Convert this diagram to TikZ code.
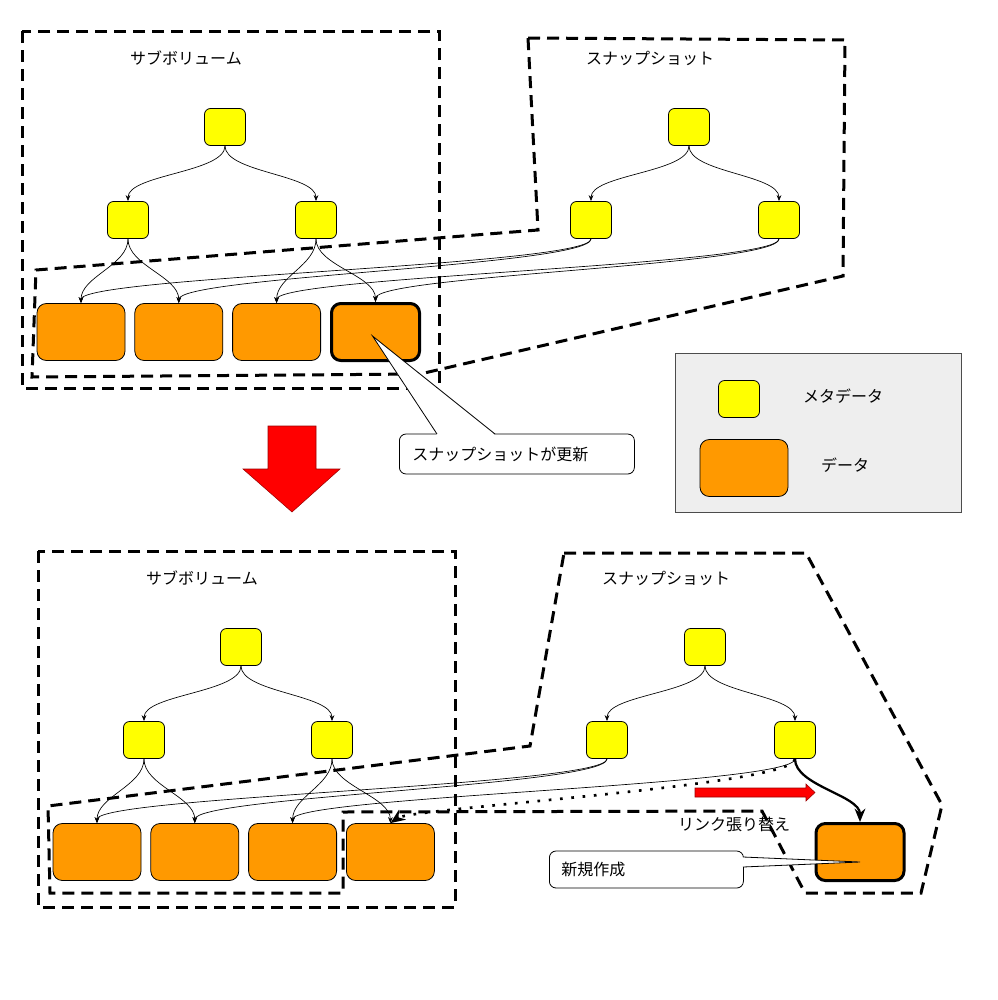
\documentclass[tikz,border=0pt]{standalone}
\usepackage{fontspec}
\setmainfont{Noto Sans CJK JP}
\usetikzlibrary{positioning}
\usetikzlibrary{arrows.meta}

\definecolor{metaY}{HTML}{FFFF00}
\definecolor{dataO}{HTML}{FF9900}
\definecolor{legG}{HTML}{EEEEEE}

\tikzset{
    meta/.style={draw, fill=metaY, rounded corners=4.5pt, minimum width=30.75pt, minimum height=27.75pt, inner sep=0pt, line width=0.6pt},
    dat/.style={draw, fill=dataO, rounded corners=7pt, minimum width=66pt, minimum height=42.75pt, inner sep=0pt, line width=0.6pt},
    grp/.style={line width=2.25pt, dash pattern=on 9pt off 5.25pt},
    link/.style={->, line width=0.5pt, out=-90, in=90, distance=20pt},
    callout/.style={draw, fill=white, rounded corners=5pt, line width=0.6pt, align=left, inner xsep=9.75pt, anchor=west},
}

\begin{document}
\begin{tikzpicture}[x=0.75pt, y=-0.75pt, >={Stealth[length=4.5pt,width=3.5pt]}, font=\fontsize{12pt}{14pt}\selectfont]
    \useasboundingbox (0,0) rectangle (997,1000);

    \draw[grp] (22,31) rectangle (439,388);
    \draw[grp] (528,38) -- (845,40) -- (843,276) -- (420,374) -- (32,377) -- (36,270) -- (538,230) -- cycle;
    \draw[grp] (38,551) rectangle (455,907);
    \draw[grp] (564,553) -- (806,553) -- (942,805) -- (921,893) -- (805,893) -- (762,811) -- (343,812) -- (343,893) -- (50,893) -- (48,806) -- (530,746) -- cycle;

    \node (T1) at (186,58) {サブボリューム};
    \node (T2) at (650,58) {スナップショット};
    \node[meta] (S0) at (225,127) {};
    \node[meta] (S1) at (128,220) {};
    \node[meta] (S2) at (316,220) {};
    \node[meta] (P0) at (689,127) {};
    \node[meta] (P1) at (591,220) {};
    \node[meta] (P2) at (779,220) {};
    \node[dat] (D1) at (81,332) {};
    \node[dat, right=6.75pt of D1] (D2) {};
    \node[dat, right=6.75pt of D2] (D3) {};
    \node[dat, right=6.75pt of D3, line width=2.25pt] (D4) {};

    \draw[link] (S0.south) to (S1.north);
    \draw[link] (S0.south) to (S2.north);
    \draw[link] (P0.south) to (P1.north);
    \draw[link] (P0.south) to (P2.north);
    \draw[link] (S1.south) to (D1.north);
    \draw[link] (S1.south) to (D2.north);
    \draw[link] (S2.south) to (D3.north);
    \draw[link] (S2.south) to (D4.north);
    \draw[link] (P1.south) to (D1.north);
    \draw[link] (P1.south) to (D2.north);
    \draw[link] (P2.south) to (D3.north);
    \draw[link] (P2.south) to (D4.north);

    \draw[fill=red, draw=red!60!black, line width=0.4pt] (268,426) -- (316,426) -- (316,469) -- (340,469) -- (292,512) -- (243,469) -- (268,469) -- cycle;

    \draw[fill=legG, draw=black!70, line width=0.6pt] (675,353) rectangle (961,512);
    \node[meta] (L1) at (739,399) {};
    \node[dat] (L2) at (744,468) {};
    \node (LT1) at (843,396) {メタデータ};
    \node (LT2) at (845,465) {データ};

    \node (nT1) at (202,578) {サブボリューム};
    \node (nT2) at (666,578) {スナップショット};
    \node[meta] (nS0) at (241,647) {};
    \node[meta] (nS1) at (144,740) {};
    \node[meta] (nS2) at (332,740) {};
    \node[meta] (nP0) at (705,647) {};
    \node[meta] (nP1) at (607,740) {};
    \node[meta] (nP2) at (795,740) {};
    \node[dat] (nD1) at (97,852) {};
    \node[dat, right=6.75pt of nD1] (nD2) {};
    \node[dat, right=6.75pt of nD2] (nD3) {};
    \node[dat, right=6.75pt of nD3] (nD4) {};
    \node[dat, line width=2.25pt] (nD5) at (860,852) {};

    \draw[link] (nS0.south) to (nS1.north);
    \draw[link] (nS0.south) to (nS2.north);
    \draw[link] (nP0.south) to (nP1.north);
    \draw[link] (nP0.south) to (nP2.north);
    \draw[link] (nS1.south) to (nD1.north);
    \draw[link] (nS1.south) to (nD2.north);
    \draw[link] (nS2.south) to (nD3.north);
    \draw[link] (nS2.south) to (nD4.north);
    \draw[link] (nP1.south) to (nD1.north);
    \draw[link] (nP1.south) to (nD2.north);
    \draw[link] (nP2.south) to (nD3.north);
    \draw[link, in=35, line width=2pt, dash pattern=on 2pt off 6.5pt, -{Stealth[length=11pt,width=9pt]}] (nP2.south) to (nD4.north);
    \draw[link, line width=1.7pt, -{Stealth[length=10pt,width=8pt]}] (nP2.south) to (nD5.north);

    \draw[fill=red, draw=red!60!black, line width=0.4pt] (695,788) -- (806,788) -- (806,784) -- (815,792.5) -- (806,801) -- (806,797) -- (695,797) -- cycle;
    \node (nT5) at (734,824) {リンク張り替え};

    % callouts
    \node[callout, minimum height=30pt, text width=156.75pt] (B1) at (399,454) {スナップショットが更新};
    \fill[white] (437,435) -- ([xshift=-2.25pt,yshift=-3pt]D4.center) -- (495,435) -- cycle;
    \draw[line width=0.6pt] (437,434) -- ([xshift=-2.25pt,yshift=-3pt]D4.center) -- (495,434);
    \node[callout, minimum height=27.75pt, text width=127.5pt, inner xsep=9pt] (B2) at (549,869.5) {新規作成};
    \fill[white] (742,857) -- ([yshift=-7.5pt]nD5.center) -- (742,867) -- cycle;
    \draw[line width=0.6pt] (743,857) -- ([yshift=-7.5pt]nD5.center) -- (743,867);
\end{tikzpicture}
\end{document}
